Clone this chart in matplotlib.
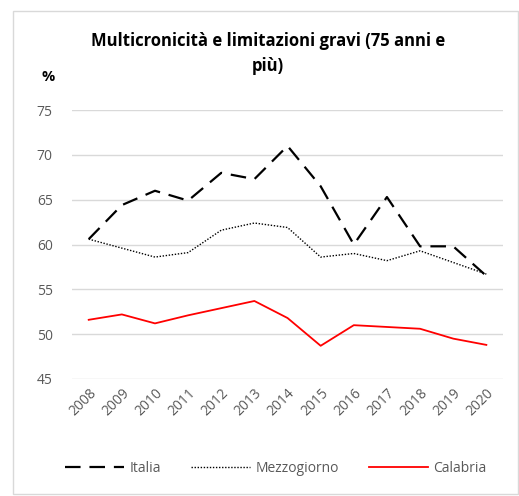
import matplotlib.pyplot as plt
from matplotlib.patches import Rectangle

# Data
years = ['2008', '2009', '2010', '2011', '2012', '2013', '2014',
         '2015', '2016', '2017', '2018', '2019', '2020']
italia = [60.6, 64.4, 66.0, 64.9, 68.0, 67.3, 71.0, 66.5, 60.0, 65.3, 59.8, 59.8, 56.5]
mezzogiorno = [60.6, 59.6, 58.6, 59.1, 61.6, 62.4, 61.9, 58.6, 59.0, 58.2, 59.3, 58.0, 56.7]
calabria = [51.6, 52.2, 51.2, 52.1, 52.9, 53.7, 51.8, 48.7, 51.0, 50.8, 50.6, 49.5, 48.8]
y_ticks = [45, 50, 55, 60, 65, 70, 75]

plt.rcParams['font.family'] = ['Open Sans', 'DejaVu Sans']

fig = plt.figure(figsize=(5.19, 4.96), dpi=100)
ax = fig.add_axes([0.139, 0.236, 0.830, 0.542])

# light frame around the whole chart
fig.patches.append(Rectangle((0.025, 0.004), 0.973, 0.974, transform=fig.transFigure,
                             fill=False, edgecolor='#d9d9d9', linewidth=1))

x = range(len(years))
ax.plot(x, italia, color='black', linewidth=1.6, dashes=(7, 4), label='Italia')
ax.plot(x, mezzogiorno, color='black', linewidth=1.0, linestyle=(0, (1, 1.2)), label='Mezzogiorno')
ax.plot(x, calabria, color='#ff0000', linewidth=1.3, label='Calabria')

ax.set_xlim(-0.5, len(years) - 0.5)
ax.set_ylim(45, 75)
ax.set_yticks(y_ticks)
ax.set_xticks(list(x))
ax.set_xticklabels(years, rotation=45, ha='right', rotation_mode='anchor')
ax.grid(axis='y', color='#d9d9d9', linewidth=1)
ax.set_axisbelow(True)
for s in ax.spines.values():
    s.set_visible(False)
ax.tick_params(axis='both', length=0, labelsize=10, colors='#595959')
ax.tick_params(axis='y', pad=14)
ax.tick_params(axis='x', pad=5)

fig.text(0.516, 0.892, 'Multicronicità e limitazioni gravi (75 anni e\npiù)',
         ha='center', va='center', fontsize=12, fontweight='bold',
         linespacing=1.45)
fig.text(0.092, 0.845, '%', ha='center', va='center', fontsize=10.5, fontweight='bold')

ax.legend(loc='upper center', bbox_to_anchor=(0.473, -0.26), ncol=3, frameon=False,
          fontsize=10, handlelength=4.2, columnspacing=2.2, handletextpad=0.4,
          labelcolor='#595959')

fig.savefig('out.png', dpi=100)
